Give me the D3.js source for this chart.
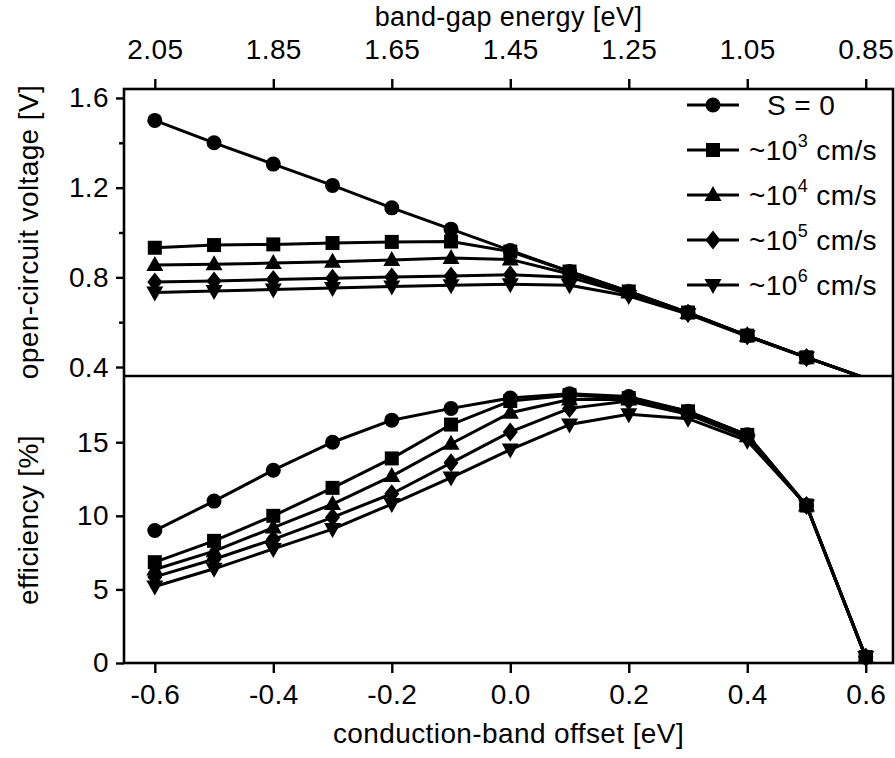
<!DOCTYPE html>
<html><head><meta charset="utf-8">
<script src="https://cdn.jsdelivr.net/npm/d3@7"></script>
<style>
html,body{margin:0;padding:0;background:#fff;}
text{font-family:"Liberation Sans",Arial,Helvetica,sans-serif;fill:#000;letter-spacing:0.4px;}
</style></head>
<body><svg id="c" width="895" height="758"></svg>
<script>
// ---- data ----
const offsets = [-0.6,-0.5,-0.4,-0.3,-0.2,-0.1,0.0,0.1,0.2,0.3,0.4,0.5,0.6];
const offsetTicks = [-0.6,-0.4,-0.2,0.0,0.2,0.4,0.6];
const bandGapTicks = [2.05,1.85,1.65,1.45,1.25,1.05,0.85];
const vocTicks = [0.4,0.8,1.2,1.6];
const vocMinorTicks = [0.6,1.0,1.4];
const effTicks = [0,5,10,15];
const seriesNames = ["S = 0","~10|3| cm/s","~10|4| cm/s","~10|5| cm/s","~10|6| cm/s"];
const seriesSymbols = ["circle","square","triangle","diamond","triangleDown"];

const vocS0  = [1.500,1.400,1.305,1.210,1.110,1.015,0.920,0.826,0.737,0.643,0.540,0.443,0.350];
const voc1e3 = [0.932,0.944,0.947,0.953,0.958,0.960,0.915,0.826,0.737,0.643,0.540,0.443,0.350];
const voc1e4 = [0.855,0.858,0.864,0.870,0.877,0.886,0.880,0.815,0.733,0.641,0.540,0.443,0.350];
const voc1e5 = [0.779,0.784,0.790,0.796,0.802,0.806,0.812,0.800,0.727,0.640,0.539,0.443,0.350];
const voc1e6 = [0.732,0.739,0.746,0.753,0.759,0.765,0.769,0.765,0.717,0.636,0.537,0.442,0.350];

const effS0  = [9.0,11.0,13.1,15.0,16.5,17.3,18.0,18.3,18.1,17.1,15.5,10.7,0.4];
const eff1e3 = [6.85,8.3,10.0,11.9,13.9,16.2,17.8,18.2,18.0,17.1,15.5,10.7,0.4];
const eff1e4 = [6.35,7.6,9.2,10.8,12.7,14.9,17.0,17.9,17.9,17.0,15.4,10.7,0.4];
const eff1e5 = [5.85,7.05,8.4,9.9,11.5,13.6,15.7,17.3,17.8,16.9,15.3,10.7,0.4];
const eff1e6 = [5.2,6.4,7.75,9.1,10.8,12.6,14.5,16.2,16.9,16.6,15.1,10.7,0.4];

const vocSeries = [vocS0,voc1e3,voc1e4,voc1e5,voc1e6];
const effSeries = [effS0,eff1e3,eff1e4,eff1e5,eff1e6];

// ---- layout ----
const L=124, R=893, T=89, MID=376, B=663;
const FS=28;
const svg = d3.select("#c");

const x = d3.scaleLinear().domain([-0.652,0.646]).range([L,R]);
const xg = d3.scaleLinear().domain([1.45+0.652,1.45-0.646]).range([L,R]);
const yV = d3.scaleLinear().domain([0.36,1.64]).range([MID,T]);
const yE = d3.scaleLinear().domain([0,19.5]).range([B,MID]);

function sym(type){
  switch(type){
    case "circle": return "M7.5,0A7.5,7.5,0,1,1,-7.5,0A7.5,7.5,0,1,1,7.5,0Z";
    case "square": return "M-7,-7H7V7H-7Z";
    case "triangle": return "M0,-9L8.5,6L-8.5,6Z";
    case "triangleDown": return "M0,9L8.5,-6L-8.5,-6Z";
    case "diamond": return "M0,-9.5L7.5,0L0,9.5L-7.5,0Z";
  }
}

svg.append("defs").append("clipPath").attr("id","clipTop")
  .append("rect").attr("x",L).attr("y",T).attr("width",R-L).attr("height",MID-T);

function minus(s){return s.replace("\u2212","-");}

// axes
const ax = svg.append("g").attr("class","axes");
function styleAxis(g, size){
  g.select(".domain").remove();
  g.selectAll(".tick line").attr("stroke","#000").attr("stroke-width",2.4);
  g.selectAll(".tick text").style("font-size",size+"px").attr("fill","#000");
}
const gb = ax.append("g").attr("transform",`translate(0,${B})`)
  .call(d3.axisBottom(x).tickValues(offsetTicks).tickSize(10).tickPadding(11).tickFormat(d=>minus(d3.format(".1f")(d))));
styleAxis(gb,FS);
const gt = ax.append("g").attr("transform",`translate(0,${T})`)
  .call(d3.axisTop(xg).tickValues(bandGapTicks).tickSize(10).tickPadding(20).tickFormat(d3.format(".2f")));
styleAxis(gt,FS);
const gl1 = ax.append("g").attr("transform",`translate(${L},0)`)
  .call(d3.axisLeft(yV).tickValues(vocTicks).tickSize(8).tickPadding(7).tickFormat(d3.format(".1f")));
styleAxis(gl1,FS);
const gl1m = ax.append("g").attr("transform",`translate(${L},0)`)
  .call(d3.axisLeft(yV).tickValues(vocMinorTicks).tickSize(5).tickFormat(""));
styleAxis(gl1m,FS);
const gl2 = ax.append("g").attr("transform",`translate(${L},0)`)
  .call(d3.axisLeft(yE).tickValues(effTicks).tickSize(8).tickPadding(7).tickFormat(d3.format("d")));
styleAxis(gl2,FS);

// frame
svg.append("rect").attr("x",L).attr("y",T).attr("width",R-L).attr("height",B-T)
  .attr("fill","none").attr("stroke","#000").attr("stroke-width",2.6);
svg.append("line").attr("x1",L).attr("x2",R).attr("y1",MID).attr("y2",MID)
  .attr("stroke","#000").attr("stroke-width",2.6);

// titles
svg.append("text").attr("x",(L+R)/2).attr("y",26).attr("text-anchor","middle").style("font-size","27px").text("band-gap energy [eV]");
svg.append("text").attr("x",(L+R)/2).attr("y",743).attr("text-anchor","middle").style("font-size",FS+"px").text("conduction-band offset [eV]");
svg.append("text").attr("transform",`translate(38,232) rotate(-90)`).attr("text-anchor","middle").style("font-size",FS+"px").text("open-circuit voltage [V]");
svg.append("text").attr("transform",`translate(38,520) rotate(-90)`).attr("text-anchor","middle").style("font-size",FS+"px").text("efficiency [%]");

// data drawing order: 10^6, 10^5, 10^4, S=0, 10^3
const order = [4,3,2,0,1];
function drawPanel(seriesArr, yScale, clip){
  const g = svg.append("g");
  if(clip) g.attr("clip-path","url(#clipTop)");
  const [d0,d1] = yScale.domain();
  const line = d3.line().x((d,i)=>x(offsets[i])).y(d=>yScale(d));
  order.forEach(si=>{
    g.append("path").attr("d",line(seriesArr[si])).attr("fill","none").attr("stroke","#000")
      .attr("stroke-width",3).attr("stroke-linejoin","round");
  });
  order.forEach(si=>{
    const pts = seriesArr[si].map((v,i)=>({x:offsets[i],v})).filter(p=>p.v>=d0 && p.v<=d1);
    g.selectAll(null).data(pts).enter().append("path")
      .attr("transform",p=>`translate(${x(p.x)},${yScale(p.v)})`)
      .attr("d",sym(seriesSymbols[si])).attr("fill","#000");
  });
}
drawPanel(vocSeries,yV,true);
drawPanel(effSeries,yE,false);

// legend
const leg = svg.append("g");
const rowY = [105,150,195,240,285];
seriesNames.forEach((name,i)=>{
  const y = rowY[i];
  leg.append("line").attr("x1",687).attr("x2",739).attr("y1",y).attr("y2",y).attr("stroke","#000").attr("stroke-width",3);
  leg.append("path").attr("transform",`translate(713,${y})`).attr("d",sym(seriesSymbols[i])).attr("fill","#000");
  const parts = name.split("|");
  const t = leg.append("text").attr("y",y+10).style("font-size",FS+"px");
  if(parts.length===1){
    t.attr("x",767).text(name);
  } else {
    t.attr("x",749);
    t.append("tspan").text(parts[0]);
    t.append("tspan").attr("dy",-13).style("font-size","18px").text(parts[1]);
    t.append("tspan").attr("dy",13).text(parts[2]);
  }
});
</script></body></html>
